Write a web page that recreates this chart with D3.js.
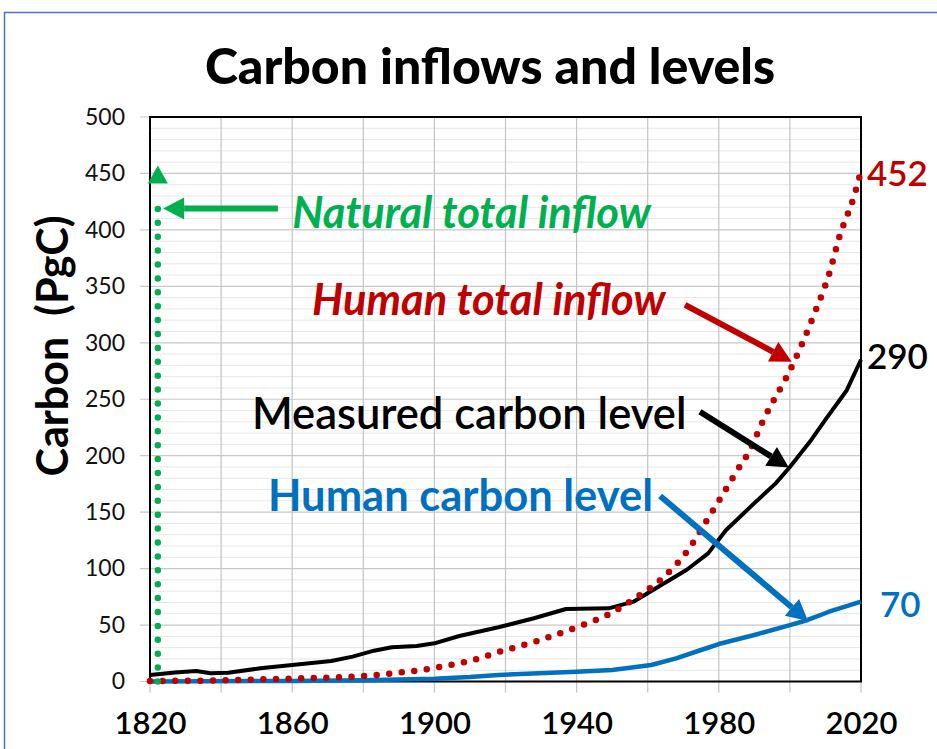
<!DOCTYPE html>
<html>
<head>
<meta charset="utf-8">
<script src="https://cdn.jsdelivr.net/npm/d3@7"></script>
<style>
  body { margin: 0; background: #fff; }
  svg { display: block; font-family: Lato, "Open Sans", sans-serif; }
</style>
</head>
<body>
<div id="chart"></div>
<script>
// ---- data ----
var measuredYears  = [1820, 1827, 1833, 1837, 1842, 1851, 1860, 1871, 1877, 1883, 1888, 1895, 1900, 1907, 1918, 1928, 1937, 1949, 1956, 1963, 1971, 1977, 1982, 1990, 1996, 2000, 2006, 2010, 2016, 2020];
var measuredLevel  = [5.8, 8, 9.3, 7.3, 7.8, 11.7, 14.6, 18.1, 22, 27.3, 30.3, 31.4, 33.8, 40.3, 48, 56, 64.2, 64.8, 70.7, 84, 99, 113.5, 134, 158, 175.5, 190, 214, 232, 258, 285];

var inflowYears    = [1820, 1840, 1862, 1873, 1881, 1888, 1896, 1903, 1911, 1918, 1929, 1940, 1950, 1957, 1963, 1971, 1977, 1981, 1985, 1989, 1992, 2001, 2007, 2011, 2014, 2018, 2020];
var humanInflow    = [0.5, 1, 2.8, 3.7, 5, 7.2, 10, 13.7, 19, 26, 36, 48, 61, 75, 88.4, 115, 144.6, 165, 186, 206.6, 228, 282, 326.7, 360.7, 394.6, 429.4, 452];

var humanYears     = [1820, 1860, 1880, 1900, 1910, 1918, 1940, 1950, 1961, 1968, 1975, 1980, 1990, 2000, 2005, 2011, 2020];
var humanLevel     = [0, 0.5, 1, 2.5, 4, 5.8, 8.7, 10.2, 14.6, 20.5, 27.9, 33.2, 41.2, 50, 54.5, 61.8, 70.7];

var naturalYear    = 1822.2;
var naturalLevel   = [0, 441];

var yTicks = [0, 50, 100, 150, 200, 250, 300, 350, 400, 450, 500];
var xTicks = [1820, 1860, 1900, 1940, 1980, 2020];

var endLabels = [
  { text: "452", value: 452, color: "#c00000" },
  { text: "290", value: 290, color: "#000000" },
  { text: "70",  value: 70,  color: "#0070c0" }
];

// annotations in data units (year, value)
var notes = [
  { text: "Natural total inflow",  x: 1860,   y: 402, color: "#00b050", italic: true,  weight: 700 },
  { text: "Human total inflow",    x: 1865.6, y: 325, color: "#c00000", italic: true,  weight: 700 },
  { text: "Measured carbon level", x: 1848.7, y: 224, color: "#000000", italic: false, weight: 600 },
  { text: "Human carbon level",    x: 1853.2, y: 151, color: "#0070c0", italic: false, weight: 700 }
];
var arrows = [
  { x1: 1856,   y1: 419,   x2: 1823.7, y2: 419,   color: "#00b050" },
  { x1: 1970.5, y1: 333.6, x2: 2000.5, y2: 283.3, color: "#c00000" },
  { x1: 1974.7, y1: 239,   x2: 1999.7, y2: 189.5, color: "#000000" },
  { x1: 1963.5, y1: 164.3, x2: 2005.1, y2: 53.6,  color: "#0070c0" }
];

// ---- layout ----
var width = 937, height = 749;
var plotL = 150, plotR = 861, plotT = 117, plotB = 681.5;

var svg = d3.select("#chart").append("svg")
    .attr("width", width)
    .attr("height", height);

// outer frame (only the top and left edges show)
svg.append("rect")
    .attr("x", 4.5).attr("y", 12.5)
    .attr("width", 1000).attr("height", 1000)
    .attr("fill", "none")
    .attr("stroke", "#4a74c0")
    .attr("stroke-width", 1.5);

var x = d3.scaleLinear().domain([1820, 2020]).range([plotL, plotR]);
var y = d3.scaleLinear().domain([0, 500]).range([plotB, plotT]);

// minor horizontal grid every 10
svg.append("g").selectAll("line")
    .data(d3.range(10, 500, 10).filter(function(d){ return d % 50 !== 0; }))
    .enter().append("line")
    .attr("x1", plotL).attr("x2", plotR)
    .attr("y1", function(d){ return y(d); })
    .attr("y2", function(d){ return y(d); })
    .attr("stroke", "#e6e6e6").attr("stroke-width", 1);

// major horizontal grid every 50 (with tick marks on the left)
svg.append("g").selectAll("line")
    .data(yTicks)
    .enter().append("line")
    .attr("x1", plotL - 10).attr("x2", plotR)
    .attr("y1", function(d){ return y(d); })
    .attr("y2", function(d){ return y(d); })
    .attr("stroke", "#c8c8c8").attr("stroke-width", 1.2);

// vertical grid every 20 years (with tick marks below)
svg.append("g").selectAll("line")
    .data(d3.range(1820, 2021, 20))
    .enter().append("line")
    .attr("x1", function(d){ return x(d); })
    .attr("x2", function(d){ return x(d); })
    .attr("y1", plotT).attr("y2", plotB + 11)
    .attr("stroke", "#c4c4c4").attr("stroke-width", 1.2);

// plot box
svg.append("rect")
    .attr("x", plotL).attr("y", plotT)
    .attr("width", plotR - plotL).attr("height", plotB - plotT)
    .attr("fill", "none")
    .attr("stroke", "#000").attr("stroke-width", 2);

// axes (labels only; lines drawn above)
var yAxis = d3.axisLeft(y).tickValues(yTicks).tickSize(0).tickPadding(25);
var gy = svg.append("g").attr("transform", "translate(" + plotL + ",0)").call(yAxis);
gy.select(".domain").remove();
gy.selectAll("text")
    .attr("font-family", "Lato, sans-serif")
    .attr("font-size", 23)
    .attr("fill", "#111");

var xAxis = d3.axisBottom(x).tickValues(xTicks).tickFormat(d3.format("d")).tickSize(0).tickPadding(30);
var gx = svg.append("g").attr("transform", "translate(0," + plotB + ")").call(xAxis);
gx.select(".domain").remove();
gx.selectAll("text")
    .attr("font-family", "Lato, sans-serif")
    .attr("font-size", 31)
    .attr("font-weight", 600)
    .attr("fill", "#000");

// series
function series(years, vals) {
    return years.map(function(d, i){ return [d, vals[i]]; });
}
var line = d3.line()
    .x(function(d){ return x(d[0]); })
    .y(function(d){ return y(d[1]); });

svg.append("path")
    .datum(series(humanYears, humanLevel))
    .attr("d", line)
    .attr("fill", "none")
    .attr("stroke", "#0070c0")
    .attr("stroke-width", 4.5)
    .attr("stroke-linejoin", "round");

svg.append("path")
    .datum(series(measuredYears, measuredLevel))
    .attr("d", line)
    .attr("fill", "none")
    .attr("stroke", "#000")
    .attr("stroke-width", 4)
    .attr("stroke-linejoin", "round");

svg.append("path")
    .datum(series(inflowYears, humanInflow))
    .attr("d", line.curve(d3.curveMonotoneX))
    .attr("fill", "none")
    .attr("stroke", "#c00000")
    .attr("stroke-width", 6.5)
    .attr("stroke-linecap", "round")
    .attr("stroke-dasharray", "0 12.6");
line.curve(d3.curveLinear);

// natural inflow: vertical dotted line with a triangle on top
svg.append("line")
    .attr("x1", x(naturalYear)).attr("x2", x(naturalYear))
    .attr("y1", y(naturalLevel[0])).attr("y2", y(naturalLevel[1]) + 13)
    .attr("stroke", "#00b050")
    .attr("stroke-width", 6.5)
    .attr("stroke-linecap", "round")
    .attr("stroke-dasharray", "0 13.9");
svg.append("path")
    .attr("d", "M" + (x(naturalYear) - 10) + "," + y(naturalLevel[1]) +
               "L" + (x(naturalYear) + 10) + "," + y(naturalLevel[1]) +
               "L" + x(naturalYear) + "," + (y(naturalLevel[1]) - 18) + "Z")
    .attr("fill", "#00b050");

// annotation arrows
arrows.forEach(function(a){
    var x1 = x(a.x1), y1 = y(a.y1), x2 = x(a.x2), y2 = y(a.y2);
    var ang = Math.atan2(y2 - y1, x2 - x1);
    var hl = 21, hw = 11;
    var bx = x2 - hl * Math.cos(ang), by = y2 - hl * Math.sin(ang);
    svg.append("line")
        .attr("x1", x1).attr("y1", y1).attr("x2", bx).attr("y2", by)
        .attr("stroke", a.color).attr("stroke-width", 6);
    svg.append("path")
        .attr("d", "M" + x2 + "," + y2 +
                   "L" + (bx + hw * Math.sin(ang)) + "," + (by - hw * Math.cos(ang)) +
                   "L" + (bx - hw * Math.sin(ang)) + "," + (by + hw * Math.cos(ang)) + "Z")
        .attr("fill", a.color);
});

// annotation texts
svg.append("g").selectAll("text")
    .data(notes)
    .enter().append("text")
    .attr("x", function(d){ return x(d.x); })
    .attr("y", function(d){ return y(d.y); })
    .attr("font-size", 43.5)
    .attr("font-weight", function(d){ return d.weight; })
    .attr("font-style", function(d){ return d.italic ? "italic" : "normal"; })
    .attr("fill", function(d){ return d.color; })
    .text(function(d){ return d.text; });

// end labels
svg.append("g").selectAll("text")
    .data(endLabels)
    .enter().append("text")
    .attr("x", function(d){ return d.text.length === 2 ? plotR + 19 : plotR + 6; })
    .attr("y", function(d){ return y(d.value) + 15; })
    .attr("font-size", 35)
    .attr("font-weight", 600)
    .attr("fill", function(d){ return d.color; })
    .text(function(d){ return d.text; });

// title
svg.append("text")
    .attr("x", 490).attr("y", 84)
    .attr("text-anchor", "middle")
    .attr("font-size", 50)
    .attr("font-weight", 900)
    .text("Carbon inflows and levels");

// y label
svg.append("text")
    .attr("transform", "translate(68,346) rotate(-90)")
    .attr("text-anchor", "middle")
    .attr("font-size", 43)
    .attr("font-weight", 700)
    .attr("xml:space", "preserve")
    .text("Carbon  (PgC)");
</script>
</body>
</html>
